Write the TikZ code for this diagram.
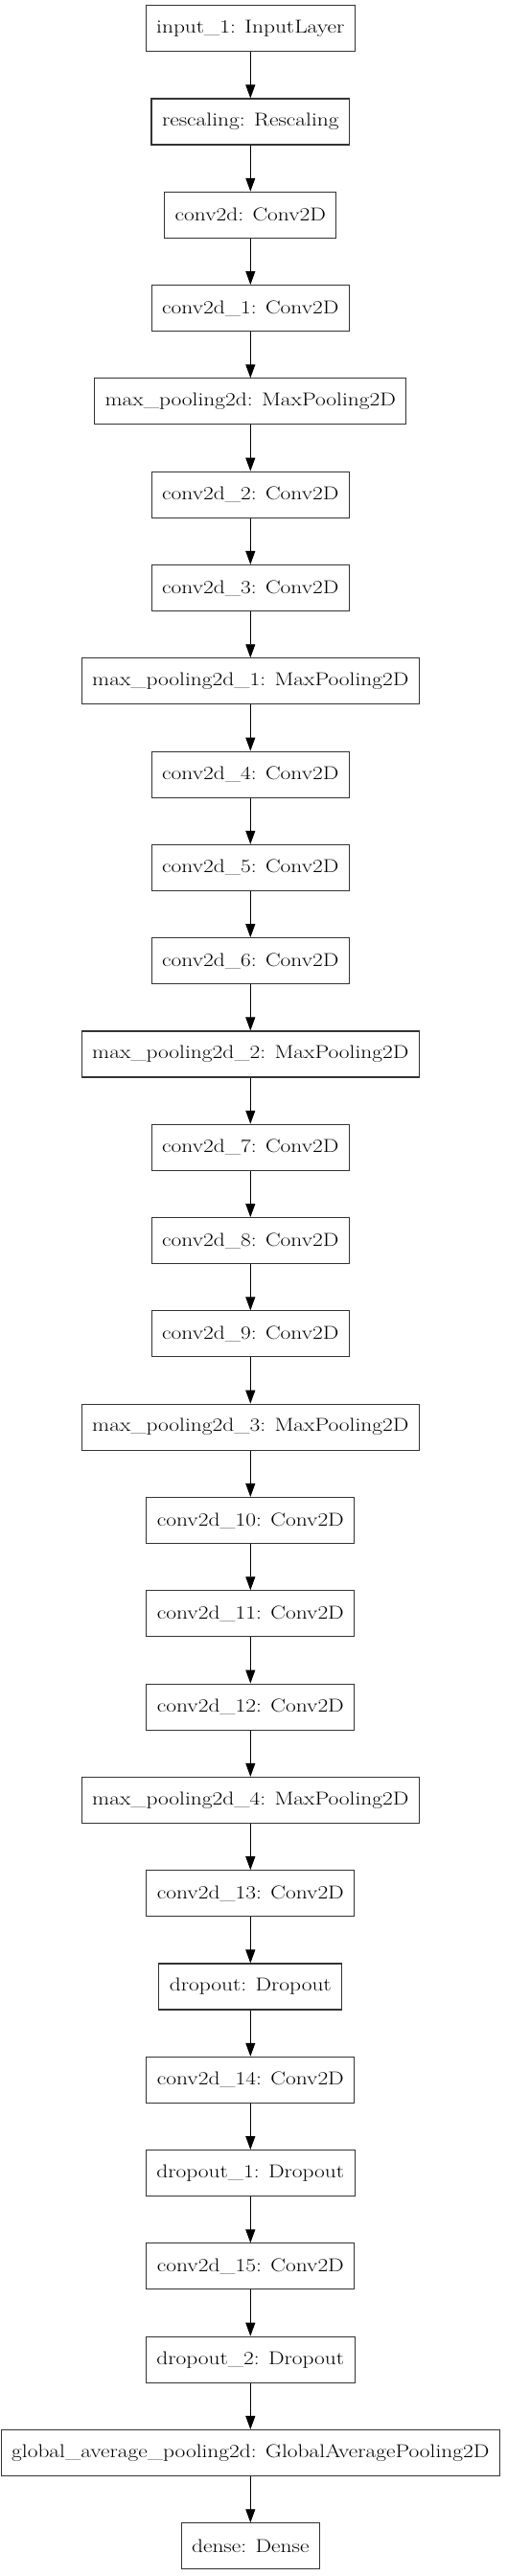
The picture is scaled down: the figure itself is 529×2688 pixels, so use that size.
\documentclass[tikz,border=0pt]{standalone}
\usepackage{fontspec}
\usepackage{tikz}
\usetikzlibrary{arrows.meta, positioning}
\newfontfamily\layerfont[FakeStretch=1.2]{Latin Modern Roman}

\tikzset{
    layer/.style={draw=black!80, line width=1.1pt, fill=white, minimum height=48pt,
        inner xsep=11pt, inner ysep=0pt, font=\layerfont\fontsize{19.5}{22}\selectfont},
    flow/.style={line width=0.9pt, -{Triangle[length=14pt, width=10pt]}}
}

\begin{document}
\begin{tikzpicture}[node distance=48.2pt]
        \useasboundingbox (0,0) rectangle (529pt,-2688pt);

        % Layers
        \node[layer] (l1) at (261.3pt,-29.7pt) {input\_1: InputLayer};
        \node[layer, below=of l1] (l2) {rescaling: Rescaling};
        \node[layer, below=of l2] (l3) {conv2d: Conv2D};
        \node[layer, below=of l3] (l4) {conv2d\_1: Conv2D};
        \node[layer, below=of l4] (l5) {max\_pooling2d: MaxPooling2D};
        \node[layer, below=of l5] (l6) {conv2d\_2: Conv2D};
        \node[layer, below=of l6] (l7) {conv2d\_3: Conv2D};
        \node[layer, below=of l7] (l8) {max\_pooling2d\_1: MaxPooling2D};
        \node[layer, below=of l8] (l9) {conv2d\_4: Conv2D};
        \node[layer, below=of l9] (l10) {conv2d\_5: Conv2D};
        \node[layer, below=of l10] (l11) {conv2d\_6: Conv2D};
        \node[layer, below=of l11] (l12) {max\_pooling2d\_2: MaxPooling2D};
        \node[layer, below=of l12] (l13) {conv2d\_7: Conv2D};
        \node[layer, below=of l13] (l14) {conv2d\_8: Conv2D};
        \node[layer, below=of l14] (l15) {conv2d\_9: Conv2D};
        \node[layer, below=of l15] (l16) {max\_pooling2d\_3: MaxPooling2D};
        \node[layer, below=of l16] (l17) {conv2d\_10: Conv2D};
        \node[layer, below=of l17] (l18) {conv2d\_11: Conv2D};
        \node[layer, below=of l18] (l19) {conv2d\_12: Conv2D};
        \node[layer, below=of l19] (l20) {max\_pooling2d\_4: MaxPooling2D};
        \node[layer, below=of l20] (l21) {conv2d\_13: Conv2D};
        \node[layer, below=of l21] (l22) {dropout: Dropout};
        \node[layer, below=of l22] (l23) {conv2d\_14: Conv2D};
        \node[layer, below=of l23] (l24) {dropout\_1: Dropout};
        \node[layer, below=of l24] (l25) {conv2d\_15: Conv2D};
        \node[layer, below=of l25] (l26) {dropout\_2: Dropout};
        \node[layer, below=of l26] (l27) {global\_average\_pooling2d: GlobalAveragePooling2D};
        \node[layer, below=of l27] (l28) {dense: Dense};

        % Connections
        \foreach \i [evaluate=\i as \j using int(\i+1)] in {1,...,27}
            \draw[flow] (l\i) -- (l\j);

    \end{tikzpicture}
\end{document}
